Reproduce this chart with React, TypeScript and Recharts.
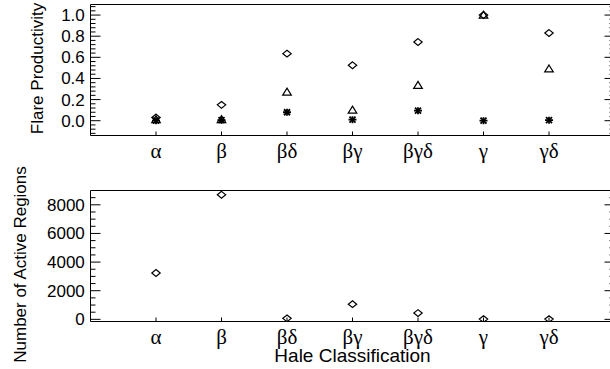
import React from "react";
import { ScatterChart, Scatter, XAxis, YAxis, Label } from "recharts";

const categories = ["α", "β", "βδ", "βγ", "βγδ", "γ", "γδ"];
const categoryTicks = [1, 2, 3, 4, 5, 6, 7];

// top panel: flare productivity per Hale class (three symbols)
const productivityDiamond = [0.03, 0.15, 0.635, 0.525, 0.745, 1.0, 0.83];
const productivityTriangle = [0.01, 0.01, 0.27, 0.1, 0.335, 1.0, 0.49];
const productivityStar = [0.0, 0.005, 0.08, 0.01, 0.095, 0.0, 0.005];

// bottom panel: number of active regions per Hale class
const regionCounts = [3240, 8700, 70, 1060, 440, 20, 20];

const productivityTicks = [0, 0.2, 0.4, 0.6, 0.8, 1.0];
const productivityMinorTicks = [
  -0.12, -0.08, -0.04, 0, 0.04, 0.08, 0.12, 0.16, 0.2, 0.24, 0.28, 0.32, 0.36,
  0.4, 0.44, 0.48, 0.52, 0.56, 0.6, 0.64, 0.68, 0.72, 0.76, 0.8, 0.84, 0.88,
  0.92, 0.96, 1.0, 1.04, 1.08,
];
const countTicks = [0, 2000, 4000, 6000, 8000];
const countMinorTicks = [
  0, 500, 1000, 1500, 2000, 2500, 3000, 3500, 4000, 4500, 5000, 5500, 6000,
  6500, 7000, 7500, 8000, 8500,
];

const SANS = "'Liberation Sans', Arial, sans-serif";
const SERIF = "'Liberation Serif', 'Times New Roman', serif";
const INK = "#000";

const MAJOR = 10; // inward tick lengths, IDL style
const MINOR = 5;
const X_TICK = 4;
const GREEK_SIZE = 21;
const GREEK_GAP = 7.6;

const Diamond = (p: any) => {
  const { cx, cy } = p;
  return (
    <polygon
      points={`${cx},${cy - 3.4} ${cx + 4.2},${cy} ${cx},${cy + 3.4} ${cx - 4.2},${cy}`}
      fill="none"
      stroke={INK}
      strokeWidth={1.2}
    />
  );
};

const Triangle = (p: any) => {
  const { cx, cy } = p;
  return (
    <polygon
      points={`${cx},${cy - 4} ${cx + 4.3},${cy + 3} ${cx - 4.3},${cy + 3}`}
      fill="none"
      stroke={INK}
      strokeWidth={1.2}
    />
  );
};

const Star = (p: any) => {
  const { cx, cy } = p;
  return (
    <g stroke={INK} strokeWidth={1.8}>
      <line x1={cx - 4} y1={cy} x2={cx + 4} y2={cy} />
      <line x1={cx} y1={cy - 3.5} x2={cx} y2={cy + 3.5} />
      <line x1={cx - 3} y1={cy - 3} x2={cx + 3} y2={cy + 3} />
      <line x1={cx - 3} y1={cy + 3} x2={cx + 3} y2={cy - 3} />
    </g>
  );
};

// left axis: label on majors, inward tick on every value
const makeLeftTick = (majors: number[], fmt: (v: number) => string, gap: number) => (props: any) => {
  const { x, y, payload } = props;
  const v = payload.value as number;
  const major = majors.includes(v);
  const ax = x + gap;
  return (
    <g>
      <line x1={ax} x2={ax + (major ? MAJOR : MINOR)} y1={y} y2={y} stroke={INK} strokeWidth={1} />
      {major && (
        <text x={x} y={y} dy="0.355em" textAnchor="end" fill={INK} fontSize={17} fontFamily={SANS}>
          {fmt(v)}
        </text>
      )}
    </g>
  );
};

const makeRightTick = (majors: number[], gap: number) => (props: any) => {
  const { x, y, payload } = props;
  const major = majors.includes(payload.value as number);
  const ax = x - gap;
  return <line x1={ax} x2={ax - (major ? MAJOR : MINOR)} y1={y} y2={y} stroke={INK} strokeWidth={1} />;
};

const makeBottomTick = (gap: number) => (props: any) => {
  const { x, y, payload } = props;
  const ay = y - gap;
  return (
    <g>
      <line x1={x} x2={x} y1={ay} y2={ay - X_TICK} stroke={INK} strokeWidth={1} />
      <text x={x} y={y} dy="0.71em" textAnchor="middle" fill={INK} fontSize={GREEK_SIZE} fontFamily={SERIF}>
        {categories[(payload.value as number) - 1] ?? ""}
      </text>
    </g>
  );
};

const makeTopTick = (gap: number) => (props: any) => {
  const { x, y } = props;
  const ay = y + gap;
  return <line x1={x} x2={x} y1={ay} y2={ay + X_TICK} stroke={INK} strokeWidth={1} />;
};

interface SeriesConfig {
  name: string;
  values: number[];
  shape: (p: any) => React.ReactElement;
}

interface PanelProps {
  series: SeriesConfig[];
  domain: [number, number];
  ticks: number[];
  minorTicks: number[];
  formatY: (v: number) => string;
  title: string;
  titleDx: number;
  titleDy: number;
  height: number;
  plotTop: number;
  xTitle?: string;
}

function Panel({
  series,
  domain,
  ticks,
  minorTicks,
  formatY,
  title,
  titleDx,
  titleDy,
  height,
  plotTop,
  xTitle,
}: PanelProps) {
  const plotH = 131;
  const line = { stroke: INK, strokeWidth: 1 };
  return (
    <ScatterChart
      width={620}
      height={height}
      margin={{ top: plotTop - 1, right: 4.5, left: 0, bottom: height - plotTop - plotH - 30 }}
    >
      <XAxis
        xAxisId="b"
        dataKey="x"
        type="number"
        domain={[0, 8]}
        ticks={categoryTicks}
        interval={0}
        allowDataOverflow
        height={30}
        tickSize={0}
        tickMargin={GREEK_GAP}
        tick={makeBottomTick(GREEK_GAP)}
        axisLine={line}
        tickLine={false}
      >
        {xTitle && (
          <Label
            value={xTitle}
            position="center"
            dy={19}
            fill={INK}
            fontSize={19}
            fontFamily={SANS}
          />
        )}
      </XAxis>
      <XAxis
        xAxisId="t"
        orientation="top"
        type="number"
        domain={[0, 8]}
        ticks={categoryTicks}
        interval={0}
        allowDataOverflow
        height={1}
        tickSize={0}
        tickMargin={2}
        tick={makeTopTick(2)}
        axisLine={line}
        tickLine={false}
      />
      <YAxis
        yAxisId="l"
        dataKey="y"
        type="number"
        domain={domain}
        ticks={minorTicks}
        interval={0}
        allowDataOverflow
        width={90.5}
        tickSize={0}
        tickMargin={5.7}
        tick={makeLeftTick(ticks, formatY, 5.7)}
        axisLine={line}
        tickLine={false}
      >
        <Label
          value={title}
          angle={-90}
          position="center"
          dx={titleDx}
          dy={titleDy}
          fill={INK}
          fontSize={17}
          fontFamily={SANS}
        />
      </YAxis>
      <YAxis
        yAxisId="r"
        orientation="right"
        type="number"
        domain={domain}
        ticks={minorTicks}
        interval={0}
        allowDataOverflow
        width={1}
        tickSize={0}
        tickMargin={2}
        tick={makeRightTick(ticks, 2)}
        axisLine={line}
        tickLine={false}
      />
      {series.map((s) => (
        <Scatter
          key={s.name}
          name={s.name}
          xAxisId="b"
          yAxisId="l"
          data={s.values.map((v, i) => ({ x: categoryTicks[i], y: v }))}
          shape={s.shape}
          isAnimationActive={false}
        />
      ))}
    </ScatterChart>
  );
}

export default function App() {
  return (
    <div
      style={{
        position: "absolute",
        left: 0,
        top: 0,
        width: 610,
        height: 369,
        overflow: "hidden",
        background: "#fff",
      }}
    >
      <div style={{ position: "absolute", left: 0, top: 0 }}>
        <Panel
          series={[
            { name: "diamond", values: productivityDiamond, shape: Diamond },
            { name: "triangle", values: productivityTriangle, shape: Triangle },
            { name: "star", values: productivityStar, shape: Star },
          ]}
          domain={[-0.14, 1.1]}
          ticks={productivityTicks}
          minorTicks={productivityMinorTicks}
          formatY={(v) => v.toFixed(1)}
          title="Flare Productivity"
          titleDx={-8}
          titleDy={-1.5}
          height={185}
          plotTop={4.5}
        />
      </div>
      <div style={{ position: "absolute", left: 0, top: 160 }}>
        <Panel
          series={[{ name: "regions", values: regionCounts, shape: Diamond }]}
          domain={[-150, 9000]}
          ticks={countTicks}
          minorTicks={countMinorTicks}
          formatY={(v) => String(v)}
          title="Number of Active Regions"
          titleDx={-25.5}
          titleDy={8.5}
          height={209}
          plotTop={30.5}
          xTitle="Hale Classification"
        />
      </div>
    </div>
  );
}
